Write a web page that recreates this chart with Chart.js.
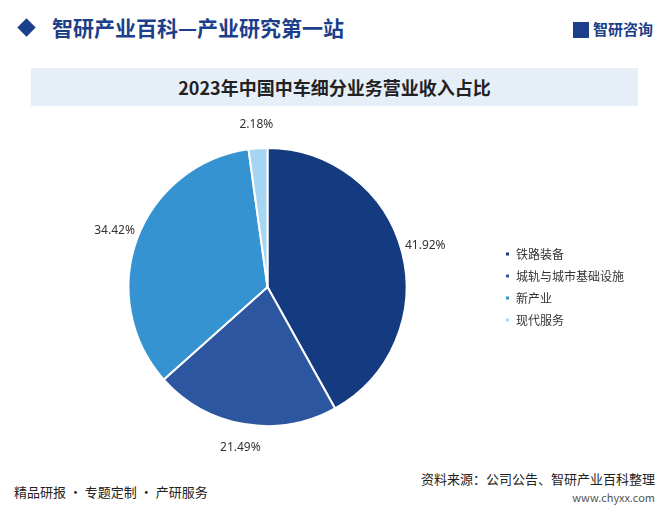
<!DOCTYPE html>
<html><head><meta charset="utf-8">
<script src="https://cdn.jsdelivr.net/npm/chart.js@4"></script>
<style>
body{margin:0;width:669px;height:515px;background:#fff;font-family:"Noto Sans CJK SC",sans-serif;position:relative;overflow:hidden}
.hd{position:absolute;left:0;top:0;width:669px;height:56px}
.dia{position:absolute;left:20px;top:21px;width:13px;height:13px;background:#1b3f8a;transform:rotate(45deg)}
.ht{position:absolute;left:52px;top:12px;font-size:21px;font-weight:bold;color:#1b3f8a}
.logo{position:absolute;right:16px;top:18px;font-size:15px;color:#1b3f8a;font-weight:bold}
.logo i{display:inline-block;width:16px;height:16px;background:#1b3f8a;vertical-align:-3px;margin-right:4px}
.tb{position:absolute;left:31px;top:68px;width:607px;height:38px;background:#e6eef8;text-align:center;line-height:38px;font-size:18px;font-weight:bold;color:#222;font-family:"Noto Sans CJK SC",serif}
.fl{position:absolute;left:14px;top:482px;font-size:13px;color:#222}
.fr{position:absolute;right:14px;top:469px;font-size:13px;color:#222;text-align:right}
.fr span{display:block;font-size:11px;color:#555;margin-top:1px}
#c{position:absolute;left:0;top:102px}
</style></head><body>
<div class="hd"><div class="dia"></div><div class="ht">智研产业百科—产业研究第一站</div><div class="logo"><i></i>智研咨询</div></div>
<div class="tb">2023年中国中车细分业务营业收入占比</div>
<div class="fl">精品研报 · 专题定制 · 产研服务</div>
<div class="fr">资料来源：公司公告、智研产业百科整理<span>www.chyxx.com</span></div>
<canvas id="c" width="669" height="370"></canvas>
<script>
const categories=["铁路装备","城轨与城市基础设施","新产业","现代服务"];
const values=[41.92,21.49,34.42,2.18];
const colors=["#143a80","#2d56a1","#3593d1","#a6d5f2"];
const labelPlugin={id:'lbl',afterDatasetsDraw(ch){const ctx=ch.ctx;const m=ch.getDatasetMeta(0);ctx.save();ctx.font='12px "Noto Sans", sans-serif';ctx.fillStyle='#333';ctx.textAlign='center';ctx.textBaseline='middle';
m.data.forEach((a,i)=>{const ang=(a.startAngle+a.endAngle)/2;const r=a.outerRadius+24;let x=a.x+Math.cos(ang)*r,y=a.y+Math.sin(ang)*r;ctx.fillText(values[i].toFixed(2)+'%',x,y);});ctx.restore();}};
new Chart(document.getElementById('c'),{type:'pie',data:{labels:categories,datasets:[{data:values,backgroundColor:colors,borderColor:'#fff',borderWidth:2}]},
options:{responsive:false,animation:false,layout:{padding:{left:40,right:35,top:45,bottom:45}},
plugins:{tooltip:{enabled:false},legend:{position:'right',labels:{boxWidth:5,boxHeight:5,padding:10,color:'#333',font:{size:12,family:'"Noto Sans CJK SC"'}}}}},plugins:[labelPlugin]});
</script></body></html>
